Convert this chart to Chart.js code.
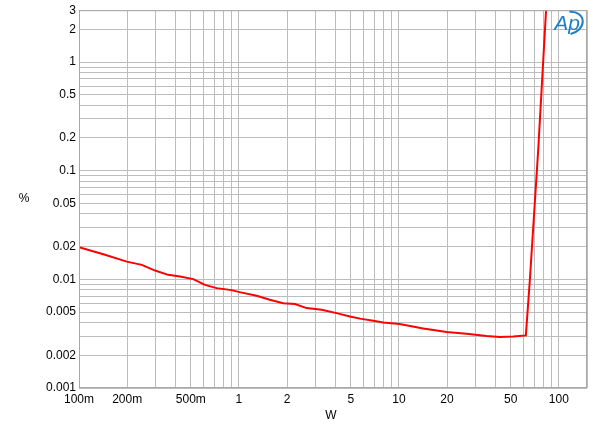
<!DOCTYPE html>
<html>
<head>
<meta charset="utf-8">
<script src="https://cdn.jsdelivr.net/npm/chart.js@4"></script>
<style>
  html, body { margin: 0; padding: 0; background: #fff; }
  #wrap { width: 600px; height: 434px; }
</style>
</head>
<body>
<div id="wrap"><canvas id="myChart--thd"></canvas></div>
<script>
// THD+N vs power
const watts = [0.1, 0.142, 0.199, 0.247, 0.299, 0.361, 0.428, 0.518, 0.613, 0.726, 0.9, 1.01, 1.29, 1.56, 1.89, 2.24, 2.65, 3.29, 4.08, 4.94, 5.71, 6.91, 7.98, 10.1, 14.2, 19.9, 26.5, 35.3, 42.8, 51.8, 62.2, 65.9, 74.3, 84.5];
const thd = [0.0198, 0.0170, 0.01456, 0.0136, 0.01205, 0.0110, 0.0106, 0.01005, 0.0089, 0.0083, 0.00796, 0.00763, 0.00706, 0.00648, 0.00604, 0.00592, 0.00544, 0.00524, 0.00489, 0.00456, 0.00435, 0.00416, 0.00401, 0.00388, 0.00353, 0.00327, 0.00316, 0.00301, 0.00294, 0.00298, 0.00305, 0.0099, 0.155, 4.5];

// axis ticks
const xTickValues = [0.1,0.2,0.3,0.4,0.5,0.6,0.7,0.8,0.9,1,2,3,4,5,6,7,8,9,10,20,30,40,50,60,70,80,90,100,150];
const xLabelValues = [0.1, 0.2, 0.5, 1, 2, 5, 10, 20, 50, 100];
const xLabelText = ["100m", "200m", "500m", "1", "2", "5", "10", "20", "50", "100"];
const yTickValues = [0.001,0.002,0.003,0.004,0.005,0.006,0.007,0.008,0.009,0.01,0.02,0.03,0.04,0.05,0.06,0.07,0.08,0.09,0.1,0.2,0.3,0.4,0.5,0.6,0.7,0.8,0.9,1,2,3];
const yLabelValues = [0.001, 0.002, 0.005, 0.01, 0.02, 0.05, 0.1, 0.2, 0.5, 1, 2, 3];
const yLabelText = ["0.001", "0.002", "0.005", "0.01", "0.02", "0.05", "0.1", "0.2", "0.5", "1", "2", "3"];

const points = watts.map((w, i) => ({x: w, y: thd[i]}));

function findLabel(vals, texts, v) {
    for (let i = 0; i < vals.length; i++) {
        if (Math.abs(vals[i] - v) / vals[i] < 1e-6) return texts[i];
    }
    return '';
}

// draws the unrotated "%" and "W" titles plus the AP mark
const extras = {
    id: 'extras',
    afterDraw(chart) {
        const c = chart.ctx;
        const area = chart.chartArea;
        c.save();
        c.fillStyle = '#000';
        c.font = '12px "Liberation Sans", Arial, sans-serif';
        c.textAlign = 'center';
        c.textBaseline = 'middle';
        c.fillText('%', 24, 199);
        c.fillText('W', 331, 416);
        // border
        c.strokeStyle = '#a8a8a8';
        c.lineWidth = 1;
        c.strokeRect(area.left + 0.5, area.top + 0.5, area.right - area.left - 1, area.bottom - area.top - 1);
        // AP logo
        c.fillStyle = '#1f7ec4';
        c.strokeStyle = '#1f7ec4';
        c.font = 'italic 21px "Liberation Sans", Arial, sans-serif';
        c.fillText('Ap', 567, 24);
        c.lineWidth = 2;
        c.beginPath();
        c.ellipse(569, 23, 14, 11, -0.3, -1.3, 1.7);
        c.stroke();
        c.restore();
    }
};

const ctx = document.getElementById("myChart--thd").getContext('2d');

const myThdChart = new Chart(ctx, {
    type: 'line',
    data: {
        datasets: [{
            data: points,
            borderColor: '#ff0000',
            borderWidth: 2,
            pointRadius: 0,
            tension: 0,
            fill: false
        }]
    },
    options: {
        responsive: true,
        maintainAspectRatio: false,
        animation: false,
        layout: { padding: { left: 0, right: 13, top: 9, bottom: 0 } },
        plugins: { legend: { display: false }, tooltip: { enabled: false } },
        scales: {
            x: {
                type: 'logarithmic',
                min: 0.1,
                max: 150,
                afterBuildTicks: (scale) => { scale.ticks = xTickValues.map(v => ({value: v})); },
                afterFit: (scale) => { scale.height = 46; },
                grid: { color: '#bdbdbd', lineWidth: 1, drawTicks: false },
                border: { display: false },
                ticks: {
                    autoSkip: false,
                    maxRotation: 0,
                    padding: 4,
                    color: '#000',
                    font: { family: '"Liberation Sans", Arial, sans-serif', size: 12 },
                    callback: (v) => findLabel(xLabelValues, xLabelText, v)
                }
            },
            y: {
                type: 'logarithmic',
                min: 0.001,
                max: 3,
                afterBuildTicks: (scale) => { scale.ticks = yTickValues.map(v => ({value: v})); },
                afterFit: (scale) => { scale.width = 79; },
                grid: { color: '#bdbdbd', lineWidth: 1, drawTicks: false },
                border: { display: false },
                ticks: {
                    autoSkip: false,
                    padding: 3,
                    color: '#000',
                    font: { family: '"Liberation Sans", Arial, sans-serif', size: 12 },
                    callback: (v) => findLabel(yLabelValues, yLabelText, v)
                }
            }
        }
    },
    plugins: [extras]
});
</script>
</body>
</html>
